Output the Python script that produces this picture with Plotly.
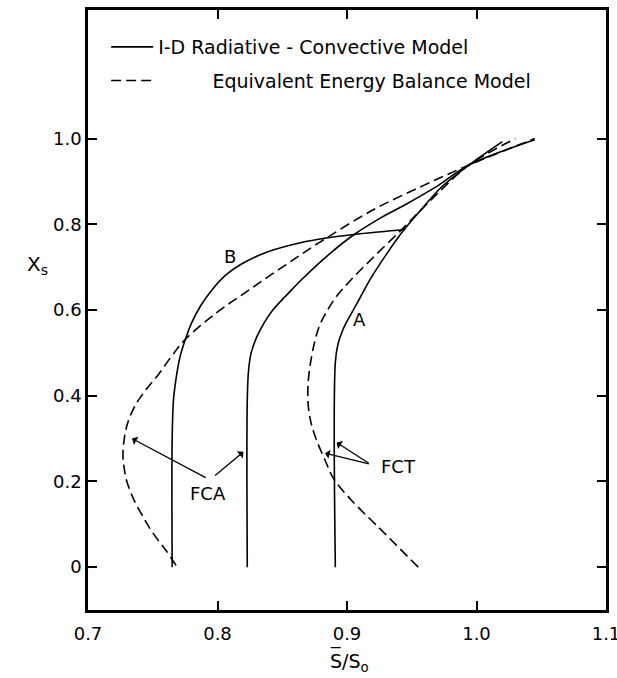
import plotly.graph_objects as go

# ---- data ----
# 1-D radiative-convective model (solid)
rc_B_x = [0.765, 0.765, 0.766, 0.768, 0.771, 0.775, 0.780, 0.787, 0.796, 0.807, 0.822, 0.840, 0.864, 0.884, 0.910, 0.945]
rc_B_y = [0.000, 0.300, 0.390, 0.440, 0.490, 0.530, 0.570, 0.610, 0.648, 0.683, 0.713, 0.737, 0.757, 0.768, 0.778, 0.788]

rc_M_x = [0.823, 0.823, 0.824, 0.826, 0.830, 0.836, 0.843, 0.855, 0.866, 0.885, 0.905, 0.926, 0.947, 0.968, 0.994, 1.045]
rc_M_y = [0.000, 0.390, 0.460, 0.500, 0.535, 0.570, 0.601, 0.640, 0.674, 0.727, 0.775, 0.815, 0.849, 0.886, 0.938, 0.997]

rc_A_x = [0.891, 0.891, 0.893, 0.897, 0.903, 0.910, 0.918, 0.930, 0.944, 0.957, 0.973, 0.994, 1.020]
rc_A_y = [0.000, 0.478, 0.520, 0.555, 0.590, 0.628, 0.672, 0.728, 0.787, 0.833, 0.887, 0.938, 0.993]

# Equivalent energy balance model (dashed)
eb_L_x = [0.768, 0.760, 0.750, 0.742, 0.735, 0.730, 0.728, 0.727, 0.728, 0.731, 0.737, 0.745, 0.754, 0.764,
          0.775, 0.799, 0.825, 0.853, 0.882, 0.921, 0.960, 0.994, 1.045]
eb_L_y = [0.004, 0.040, 0.080, 0.120, 0.160, 0.200, 0.230, 0.260, 0.300, 0.340, 0.380, 0.415, 0.448, 0.490,
          0.531, 0.593, 0.648, 0.706, 0.764, 0.835, 0.892, 0.938, 1.000]

eb_R_x = [0.955, 0.923, 0.905, 0.890, 0.883, 0.876, 0.872, 0.870, 0.870, 0.872, 0.875, 0.879, 0.885, 0.892,
          0.903, 0.920, 0.942, 0.957, 0.970, 0.994, 1.030]
eb_R_y = [0.000, 0.097, 0.151, 0.205, 0.250, 0.300, 0.340, 0.380, 0.430, 0.480, 0.525, 0.565, 0.600, 0.632,
          0.670, 0.722, 0.787, 0.833, 0.872, 0.938, 1.000]

x_ticks = [0.7, 0.8, 0.9, 1.0, 1.1]
x_tick_text = ["0.7", "0.8", "0.9", "1.0", "1.1"]
y_ticks = [0, 0.2, 0.4, 0.6, 0.8, 1.0]
y_tick_text = ["0", "0.2", "0.4", "0.6", "0.8", "1.0"]

legend_solid = "I-D Radiative - Convective Model"
legend_dashed = "\u00a0" * 9 + "Equivalent Energy Balance Model"

FONT = "DejaVu Sans"
FS = 18
solid = dict(color="black", width=1.6)
dashed = dict(color="black", width=1.6, dash="10px,5px")
SM = 1.0

fig = go.Figure()
fig.add_trace(go.Scatter(x=rc_B_x, y=rc_B_y, mode="lines", line=dict(**solid, shape="spline", smoothing=SM),
                         name=legend_solid, showlegend=True, legendgroup="rc"))
fig.add_trace(go.Scatter(x=eb_L_x, y=eb_L_y, mode="lines", line=dict(**dashed, shape="spline", smoothing=SM),
                         name=legend_dashed, showlegend=True, legendgroup="eb"))
fig.add_trace(go.Scatter(x=rc_M_x, y=rc_M_y, mode="lines", line=dict(**solid, shape="spline", smoothing=SM),
                         showlegend=False, legendgroup="rc"))
fig.add_trace(go.Scatter(x=rc_A_x, y=rc_A_y, mode="lines", line=dict(**solid, shape="spline", smoothing=SM),
                         showlegend=False, legendgroup="rc"))
fig.add_trace(go.Scatter(x=eb_R_x, y=eb_R_y, mode="lines", line=dict(**dashed, shape="spline", smoothing=SM),
                         showlegend=False, legendgroup="eb"))

# labels and arrows
labels = [
    dict(text="B", x=0.810, y=0.725),
    dict(text="A", x=0.910, y=0.577),
    dict(text="FCA", x=0.793, y=0.172),
    dict(text="FCT", x=0.940, y=0.236),
]
arrows = [
    dict(tail=(0.792, 0.207), tip=(0.734, 0.300)),
    dict(tail=(0.797, 0.211), tip=(0.820, 0.269)),
    dict(tail=(0.918, 0.240), tip=(0.892, 0.291)),
    dict(tail=(0.918, 0.240), tip=(0.883, 0.266)),
]
annotations = []
for lb in labels:
    annotations.append(dict(text=lb["text"], x=lb["x"], y=lb["y"], xref="x", yref="y", showarrow=False,
                            font=dict(family=FONT, size=FS, color="black")))
for ar in arrows:
    annotations.append(dict(text="", x=ar["tip"][0], y=ar["tip"][1], ax=ar["tail"][0], ay=ar["tail"][1],
                            xref="x", yref="y", axref="x", ayref="y", showarrow=True,
                            arrowhead=1, arrowsize=1.2, arrowwidth=1.3, arrowcolor="black"))
annotations.append(dict(text="X<sub>s</sub>", x=-0.122, y=0.705, xref="paper", yref="y", showarrow=False,
                        font=dict(family=FONT, size=FS + 2, color="black")))
annotations.append(dict(text="S/S<sub>o</sub>", x=0.504, y=-0.064, xref="paper", yref="paper",
                        xanchor="center", yanchor="top",
                        showarrow=False, font=dict(family=FONT, size=FS + 1, color="black")))
annotations.append(dict(text="\u203e", x=0.477, y=-0.054, xref="paper", yref="paper",
                        xanchor="center", yanchor="top",
                        showarrow=False, font=dict(family=FONT, size=FS + 1, color="black")))

fig.update_layout(
    width=617, height=678,
    margin=dict(l=88, r=11, t=10, b=68),
    paper_bgcolor="white", plot_bgcolor="white",
    font=dict(family=FONT, size=FS, color="black"),
    annotations=annotations,
    legend=dict(x=0.035, y=0.97, xanchor="left", yanchor="top", bgcolor="rgba(0,0,0,0)",
                font=dict(family=FONT, size=FS + 1, color="black"), tracegroupgap=6,
                traceorder="grouped", itemwidth=42),
)
fig.update_xaxes(range=[0.7, 1.1], tickvals=x_ticks, ticktext=x_tick_text, showgrid=False, zeroline=False,
                 showline=True, linecolor="black", linewidth=2.5, mirror="ticks", automargin=False,
                 ticks="inside", ticklen=9, tickwidth=2, tickcolor="black", ticklabelstandoff=6,
                 ticklabeloverflow="allow",
                 tickfont=dict(family=FONT, size=FS, color="black"))
fig.update_yaxes(range=[-0.1, 1.3], tickvals=y_ticks, ticktext=y_tick_text, showgrid=False, zeroline=False,
                 showline=True, linecolor="black", linewidth=2.5, mirror="ticks", automargin=False,
                 ticks="inside", ticklen=9, tickwidth=2, tickcolor="black",
                 tickfont=dict(family=FONT, size=FS, color="black"))

# remove the default 8px page margin so the 617x678 figure fills the window exactly
fig.write_html("out.html", config={"displayModeBar": False},
               post_script="document.body.style.margin='0';")
